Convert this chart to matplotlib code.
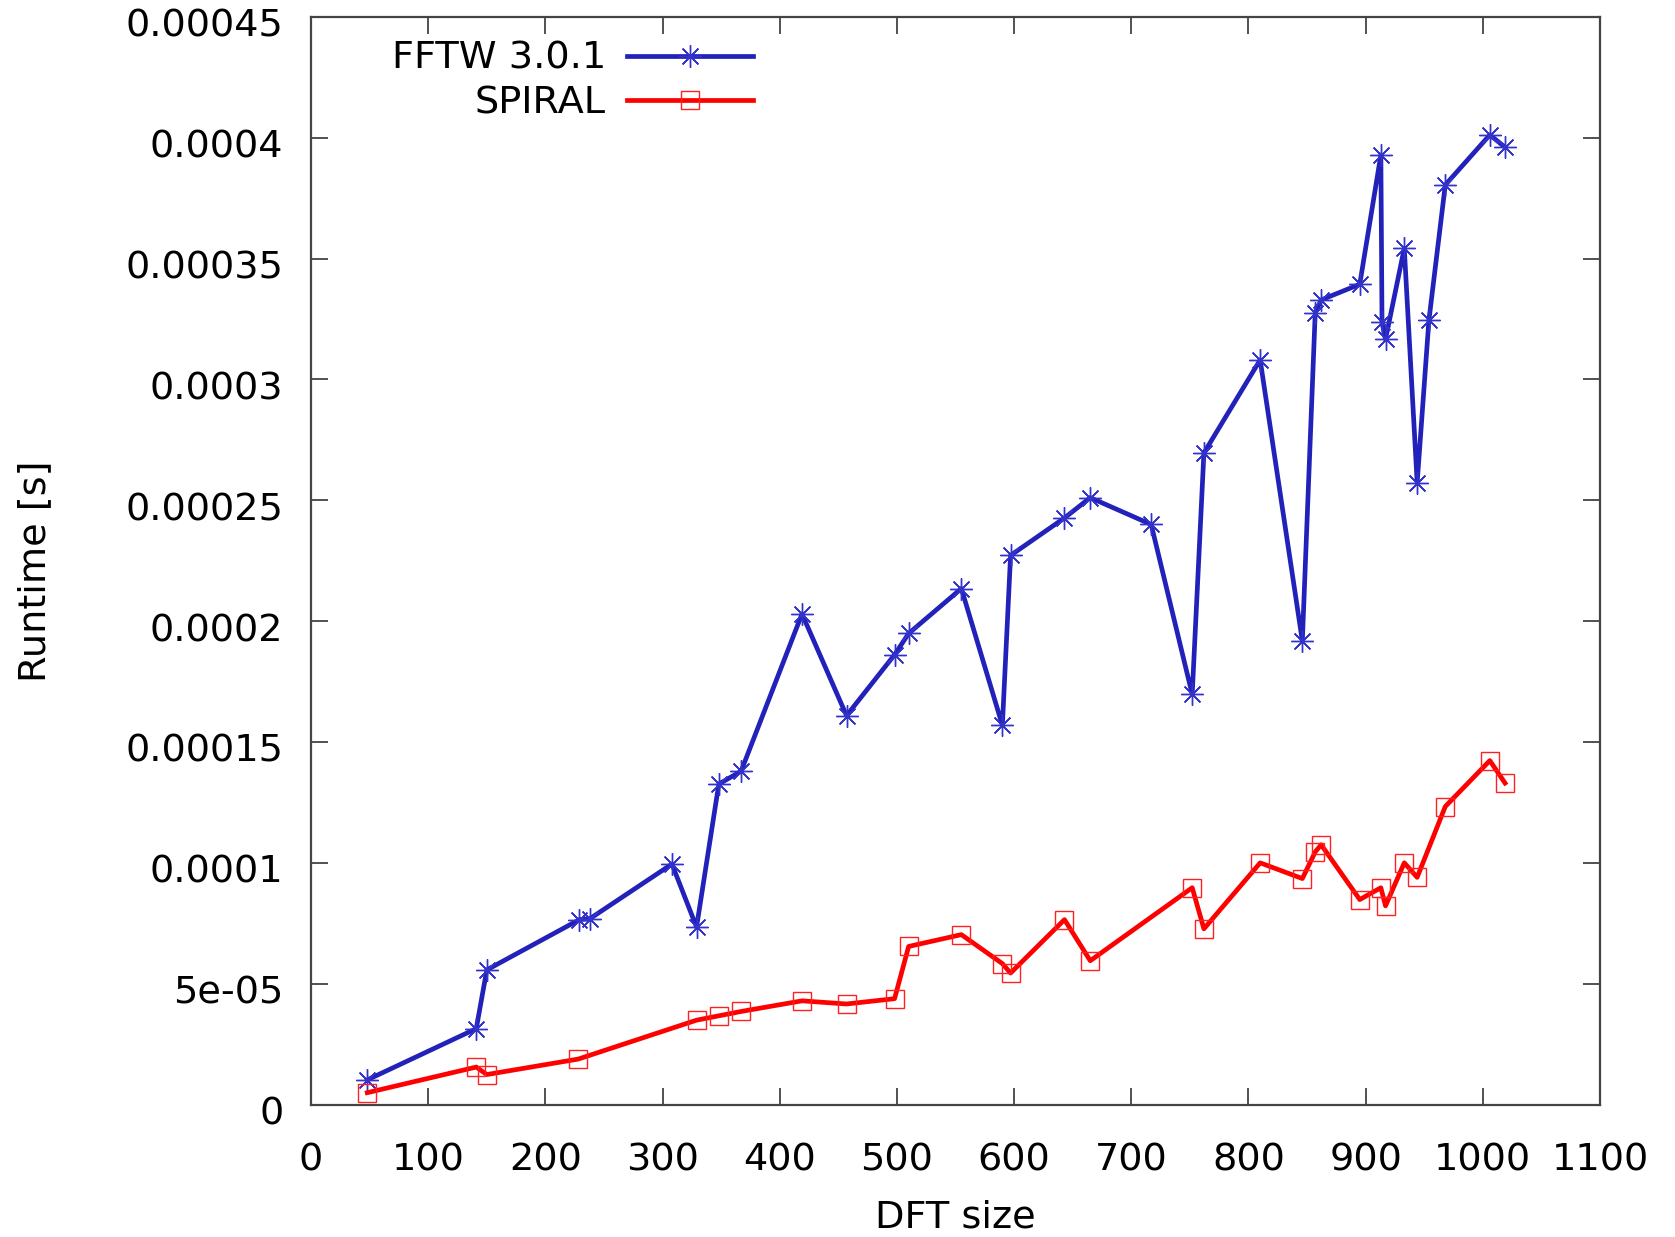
import matplotlib
matplotlib.use("Agg")
import matplotlib.pyplot as plt
import matplotlib.transforms as mtrans

##### Data #####
fftw_x = [48, 141, 150, 229, 238, 308, 329, 348, 367, 419, 457, 498, 510, 555,
          590, 597, 643, 665, 717, 752, 762, 810, 846, 857, 862, 895, 913, 914,
          917, 933, 944, 954, 968, 1006, 1019]
fftw_y = [1.02e-5, 3.14e-5, 5.57e-5, 7.65e-5, 7.69e-5, 9.95e-5, 7.34e-5,
          1.326e-4, 1.379e-4, 2.03e-4, 1.609e-4, 1.861e-4, 1.949e-4, 2.135e-4,
          1.569e-4, 2.272e-4, 2.427e-4, 2.511e-4, 2.40e-4, 1.697e-4, 2.696e-4,
          3.081e-4, 1.918e-4, 3.276e-4, 3.329e-4, 3.394e-4, 3.929e-4, 3.236e-4,
          3.166e-4, 3.543e-4, 2.573e-4, 3.244e-4, 3.805e-4, 4.012e-4, 3.961e-4]

spiral_x = [48, 141, 150, 228, 329, 348, 367, 419, 457, 498, 510, 555, 590,
            597, 643, 665, 752, 762, 810, 846, 857, 862, 895, 913, 917, 933,
            944, 968, 1006, 1019]
spiral_y = [4.9e-6, 1.55e-5, 1.24e-5, 1.88e-5, 3.49e-5, 3.67e-5, 3.85e-5,
            4.29e-5, 4.16e-5, 4.38e-5, 6.54e-5, 7.03e-5, 5.83e-5, 5.44e-5,
            7.65e-5, 5.95e-5, 8.97e-5, 7.27e-5, 1.0e-4, 9.35e-5, 1.045e-4,
            1.075e-4, 8.48e-5, 8.97e-5, 8.22e-5, 1.0e-4, 9.4e-5, 1.233e-4,
            1.423e-4, 1.33e-4]

x_ticks = [0, 100, 200, 300, 400, 500, 600, 700, 800, 900, 1000, 1100]
y_ticks = [0, 5e-5, 1e-4, 1.5e-4, 2e-4, 2.5e-4, 3e-4, 3.5e-4, 4e-4, 4.5e-4]
y_labels = ["0", "5e-05", "0.0001", "0.00015", "0.0002", "0.00025",
            "0.0003", "0.00035", "0.0004", "0.00045"]

###### Plot ######
fs = 27.5
fig = plt.figure(figsize=(16.75, 12.37), dpi=100)
ax = fig.add_axes([0.1857, 0.1071, 0.7695, 0.8792])

ax.plot(fftw_x, fftw_y, '-', color='#2222bb', lw=3.4, marker=(8, 2, 0),
        markersize=16, markeredgewidth=1.0, markeredgecolor='#3333cc',
        label='FFTW 3.0.1')
ax.plot(spiral_x, spiral_y, '-', color='#ff0000', lw=3.4, marker='s',
        markersize=12.5, markeredgewidth=1.0, markerfacecolor='none',
        markeredgecolor='#ff2020', label='SPIRAL')

ax.set_xlim(0, 1100)
ax.set_ylim(0, 0.00045)
ax.set_xticks(x_ticks)
ax.set_xticklabels([str(v) for v in x_ticks], fontsize=fs)
ax.set_yticks(y_ticks)
ax.set_yticklabels(y_labels, fontsize=fs)
ax.tick_params(direction='in', length=12, width=1.2, top=True, right=True,
               color='#333333')
ax.tick_params(axis='x', pad=27)
ax.tick_params(axis='y', pad=20)
# gnuplot puts the y labels a bit below the tick
shift = mtrans.ScaledTranslation(0, -0.06, fig.dpi_scale_trans)
for lab in ax.get_yticklabels():
    lab.set_transform(lab.get_transform() + shift)
for s in ax.spines.values():
    s.set_linewidth(1.6)
    s.set_color('#444444')

ax.set_xlabel('DFT size', fontsize=fs)
ax.xaxis.set_label_coords(0.5, -0.087)
ax.set_ylabel('Runtime [s]', fontsize=fs)
ax.yaxis.set_label_coords(-0.2, 0.49)

ax.legend(loc='upper right', frameon=False, markerfirst=False, fontsize=fs,
          handlelength=3.3, handletextpad=0.55, numpoints=1, labelspacing=0.22,
          borderpad=0, borderaxespad=0, bbox_to_anchor=(0.343, 0.978))

plt.savefig("out.png", dpi=100)
